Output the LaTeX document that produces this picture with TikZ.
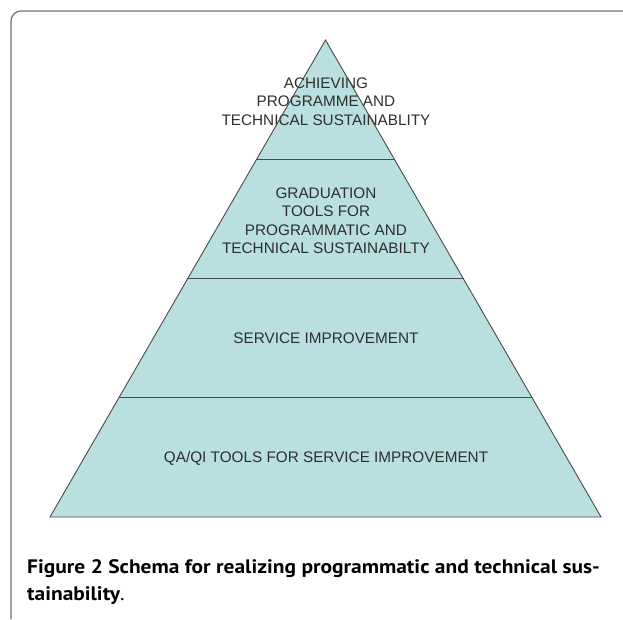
\documentclass[tikz,border=0pt]{standalone}
\usepackage{fontspec}
\usepackage{graphicx}
\setmainfont{Liberation Sans}
\newfontfamily\capfont{PT Sans}
\usetikzlibrary{calc}
\definecolor{pyrfill}{HTML}{B9DFE1}
\definecolor{pyrline}{HTML}{4A4A4A}
\definecolor{framecol}{HTML}{707070}
\definecolor{txtcol}{HTML}{2E2E2E}
\begin{document}
\begin{tikzpicture}[x=1pt,y=-1pt,
  lvltext/.style={font=\fontsize{15.3}{18.5}\selectfont, text=txtcol, align=center, inner sep=0pt},
  pyredge/.style={draw=pyrline, line width=0.9pt},
  captext/.style={font=\capfont\fontsize{19.5}{29}\selectfont, anchor=base west, inner sep=0pt, text=black}]
\useasboundingbox (0,0) rectangle (623,619);
% frame
\draw[framecol, line width=1.2pt, rounded corners=10pt] (623,11) -- (11,11) -- (11,619);
% pyramid geometry
\coordinate (apex) at (325.5,40);
\coordinate (bl) at (50,517);
\coordinate (br) at (601,517);
\coordinate (l1) at ($(apex)!0.25!(bl)$);
\coordinate (r1) at ($(apex)!0.25!(br)$);
\coordinate (l2) at ($(apex)!0.5!(bl)$);
\coordinate (r2) at ($(apex)!0.5!(br)$);
\coordinate (l3) at ($(apex)!0.75!(bl)$);
\coordinate (r3) at ($(apex)!0.75!(br)$);
\fill[pyrfill] (apex) -- (bl) -- (br) -- cycle;
% labels
\node[lvltext] (t1) at (326,101.5) {ACHIEVING\\PROGRAMME AND\\TECHNICAL SUSTAINABLITY};
\node[lvltext] (t2) at (326,220.5) {GRADUATION\\TOOLS FOR\\PROGRAMMATIC AND\\TECHNICAL SUSTAINABILTY};
\node[lvltext] (t3) at (326,338) {SERVICE IMPROVEMENT};
\node[lvltext] (t4) at (326,458.5) {QA/QI TOOLS FOR SERVICE IMPROVEMENT};
% edges
\draw[pyredge] (apex) -- (bl) -- (br) -- cycle;
\draw[pyredge] (l1) -- (r1);
\draw[pyredge] (l2) -- (r2);
\draw[pyredge] (l3) -- (r3);
% caption
\node[captext] (cap1) at (27,573) {\scalebox{1.1}[1]{\bfseries Figure 2 Schema for realizing programmatic and technical sus-}};
\node[captext] (cap2) at (27,600) {\scalebox{1.1}[1]{\bfseries tainability\mdseries.}};
\end{tikzpicture}
\end{document}
